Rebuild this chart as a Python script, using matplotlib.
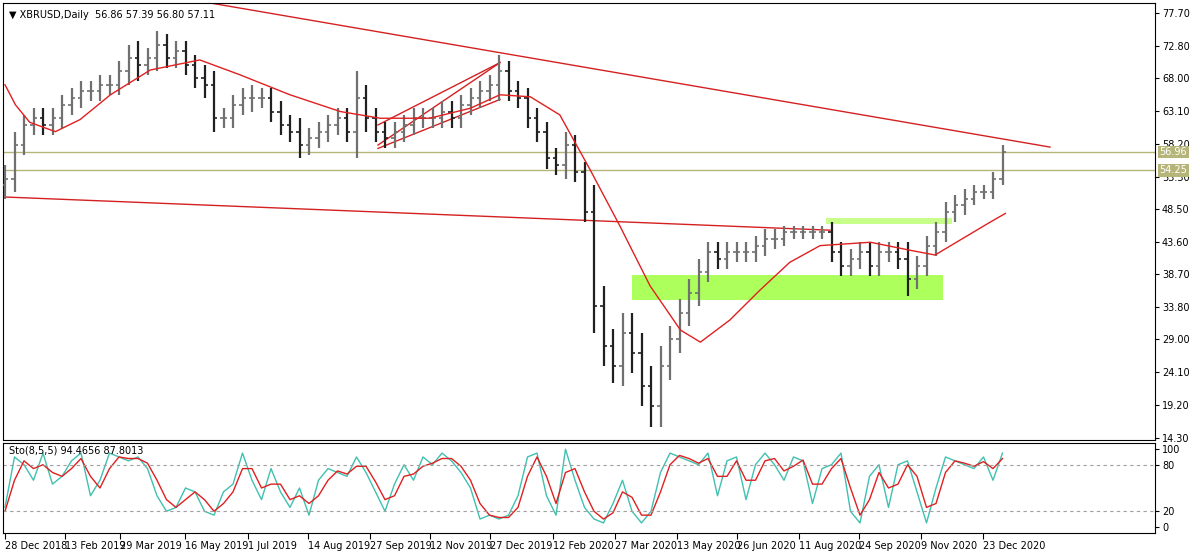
import matplotlib
matplotlib.use("Agg")
import matplotlib.pyplot as plt
import numpy as np

closes = [53,58,61,62,61,62,64,65,66,66,
          67,67,69,71,70,71,73,71,72,70,
          68,67,62,62,64,65,65,65,63,61,
          60,58,59,60,61,62,60,65,62,60,
          59,60,61,62,62,62,63,62,64,65,
          66,67,69,66,65,62,60,56,55,58,
          54,48,34,28,25,30,27,22,19,25,
          29,33,36,39,42,41,42,42,42,43,
          44,44,45,45,45,45,45,42,40,41,
          42,40,42,42,41,38,40,43,45,48,
          49,50,51,51,53,57]
wicks = [2,2,1.5,1.5,1.5,1.5,1.5,1.5,1.5,1.5,
         1.5,1.5,1.5,2,2.5,1.5,2,1.5,1.5,1.5,
         1.5,2,2,1.5,1.5,1.5,2,1.5,1.5,1.5,
         1.5,2,1.5,1.5,1.5,1.5,1.5,4,2,1.5,
         1.5,1.5,1.5,1.5,1.5,1.5,1.5,1.5,1.5,1.5,
         1.5,1.5,2.5,1.5,1.5,1.5,1.5,1.5,1.5,2,
         1.5,1.5,4,3,2.5,3,3,3,3,3,
         2,2,2,2,1.5,1.5,1.5,1.5,1.5,1.5,
         1.5,1.5,1,1,1,1,1,1.5,1.5,1.5,
         1.5,1.5,1.5,1.5,1.5,2.5,1.5,1.5,1.5,1.5,
         1.5,1.5,1,1,1,1]
ma_weeks = [0,1.1,2.6,5.3,7.9,11.1,15.3,20.5,24.7,30,35.3,39.5,44.7,49,52.1,55.3,
            58.4,61.6,64.7,67.9,71.1,73.2,76.3,79.5,82.6,85.8,91.1,95.3,97.9,100.5,103.7,105.3]
ma_vals = [67,64,61.4,60,61.8,65.5,69.2,70.7,68.5,65.5,63,62,62,63.5,65.5,65.2,
           62.5,54.3,46,37,30.4,28.6,31.9,36.4,40.5,43,43.5,42.3,41.6,43.8,46.5,47.8]

stoch_main = [25,90,80,60,95,55,65,85,95,40,
 60,95,90,85,90,75,40,20,25,50,
 45,20,15,45,55,95,60,35,75,45,
 25,50,15,60,75,70,65,90,70,45,
 20,55,80,60,90,80,95,85,70,50,
 10,15,10,15,40,90,95,40,15,100,
 60,25,10,5,30,60,20,5,20,70,
 95,90,85,80,95,40,85,90,35,80,
 95,80,60,90,85,30,75,80,95,20,
 5,65,80,25,80,85,45,5,50,90,
 85,80,75,90,60,95]
stoch_sig = [20,60,85,75,80,70,65,75,88,65,
 50,75,90,88,88,82,60,35,25,35,
 45,35,20,30,45,75,75,50,55,55,
 35,40,30,40,60,72,68,78,78,58,
 35,40,65,68,78,82,88,88,78,60,
 30,15,12,12,25,65,90,65,30,70,
 75,45,20,10,18,45,38,15,15,45,
 80,92,88,82,88,65,65,85,60,60,
 85,88,72,78,86,55,55,75,88,50,
 15,35,70,50,55,80,65,25,30,70,
 85,82,78,84,75,88]

date_labels = ["28 Dec 2018","13 Feb 2019","29 Mar 2019","16 May 2019","1 Jul 2019",
               "14 Aug 2019","27 Sep 2019","12 Nov 2019","27 Dec 2019","12 Feb 2020",
               "27 Mar 2020","13 May 2020","26 Jun 2020","11 Aug 2020","24 Sep 2020",
               "9 Nov 2020","23 Dec 2020"]
date_weeks = [0,6.3,12.1,18.9,25.6,31.9,38.4,44.7,51.0,57.7,64.2,70.7,77.1,83.6,89.9,96.4,102.9]
price_ticks = [77.70,72.80,68.00,63.10,58.20,53.30,48.50,43.60,38.70,33.80,29.00,24.10,19.20,14.30]

W, H = 1200, 555
fig = plt.figure(figsize=(W/100, H/100), dpi=100)
def px(x0, y0, x1, y1):
    return [x0/W, 1-y1/H, (x1-x0)/W, (y1-y0)/H]
ax = fig.add_axes(px(3, 3, 1155, 440))
ax2 = fig.add_axes(px(3, 443, 1155, 533))

def wk(x):
    return (x-5)/9.5
xlim = (wk(3), wk(1155))
ax.set_xlim(*xlim)
ax.set_ylim(14.30-2*0.1492, 77.70+10*0.1492)

ax.fill_between([wk(632), wk(943)], 34.9, 38.6, color='#adff5c', lw=0, zorder=1)
ax.fill_between([wk(826), wk(952)], 46.2, 47.1, color='#c8ff8a', lw=0, zorder=1)

for v in (56.96, 54.25):
    ax.axhline(v, color='#b5b57a', lw=1, zorder=2)

ax.plot([wk(210), wk(1050)], [79.2, 57.7], color='#d42020', lw=1, zorder=2)
ax.plot([wk(5), wk(830)], [50.25, 45.3], color='#d42020', lw=1, zorder=2)
ax.plot([wk(378), wk(500)], [58.0, 70.3], color='#d42020', lw=1, zorder=2)
ax.plot([wk(378), wk(500)], [57.5, 64.8], color='#d42020', lw=1, zorder=2)
ax.plot([wk(378), wk(500)], [61.0, 70.3], color='#d42020', lw=1, zorder=2)

prev = closes[0] - 1
for i, c in enumerate(closes):
    o = prev
    hi = max(o, c) + wicks[i]
    lo = min(o, c) - wicks[i]
    col = '#707070' if c >= o else '#202020'
    ax.vlines(i, lo, hi, color=col, lw=1.6, zorder=3)
    ax.hlines(o, i-0.35, i, color=col, lw=1.2, zorder=3)
    ax.hlines(c, i, i+0.35, color=col, lw=1.2, zorder=3)
    prev = c

ax.plot(ma_weeks, ma_vals, color='#e02020', lw=1, zorder=4)

ax.yaxis.tick_right()
ax.set_yticks(price_ticks)
ax.set_yticklabels([f"{v:.2f}" for v in price_ticks], fontsize=7)
ax.tick_params(axis='y', length=3, pad=2)
ax.set_xticks([])
lo_, hi_ = ax.get_ylim()
for v in (56.96, 54.25):
    ax.text(1.004, (v-lo_)/(hi_-lo_), f"{v:.2f}",
            transform=ax.transAxes, fontsize=7, va='center', ha='left', color='white',
            bbox=dict(boxstyle='square,pad=0.15', fc='#b5b57a', ec='none'), zorder=10)
ax.text(0.005, 0.985, "▼ XBRUSD,Daily  56.86 57.39 56.80 57.11", transform=ax.transAxes,
        fontsize=7, va='top', ha='left')

x = np.arange(len(stoch_main))
ax2.set_xlim(*xlim)
ax2.set_ylim(-8, 108)
ax2.plot(x, stoch_main, color='#40c0b0', lw=1)
ax2.plot(x, stoch_sig, color='#e02020', lw=1)
for v in (80, 20):
    ax2.axhline(v, color='#a0a0a0', lw=0.8, ls=(0, (3, 3)))
ax2.yaxis.tick_right()
ax2.set_yticks([100, 80, 20, 0])
ax2.set_yticklabels(['100', '80', '20', '0'], fontsize=7)
ax2.tick_params(axis='y', length=3, pad=2)
ax2.set_xticks(date_weeks)
ax2.set_xticklabels(date_labels, fontsize=7, ha='left')
ax2.tick_params(axis='x', length=4, pad=2)
ax2.text(0.005, 0.97, "Sto(8,5,5) 94.4656 87.8013", transform=ax2.transAxes,
         fontsize=7, va='top', ha='left')
for a in (ax, ax2):
    for s in a.spines.values():
        s.set_linewidth(0.8)

fig.savefig("out.png", dpi=100)
